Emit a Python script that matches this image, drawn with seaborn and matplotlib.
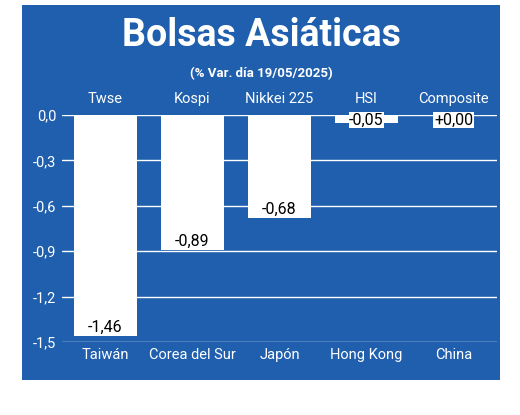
import matplotlib
matplotlib.use("Agg")
import matplotlib.pyplot as plt
import seaborn as sns
import pandas as pd
from matplotlib.patches import Rectangle

countries = ["Taiwán", "Corea del Sur", "Japón", "Hong Kong", "China"]
indices = ["Twse", "Kospi", "Nikkei 225", "HSI", "Composite"]
values = [-1.46, -0.89, -0.68, -0.05, 0.00]
labels = ["-1,46", "-0,89", "-0,68", "-0,05", "+0,00"]
yticks = [0.0, -0.3, -0.6, -0.9, -1.2, -1.5]

sns.set_theme(style="white")
plt.rcParams['font.family'] = ['Roboto', 'DejaVu Sans']
blue = "#1f5fae"

fig = plt.figure(figsize=(5.2, 4.15), dpi=100)
fig.patches.append(Rectangle((0.042, 0.084), 0.92, 0.904, transform=fig.transFigure,
                             facecolor=blue, edgecolor="none", zorder=-10))
fig.text(0.502, 0.915, "Bolsas Asiáticas", color="white", fontsize=27, fontweight="bold",
         ha="center", va="center")
fig.text(0.502, 0.822, "(% Var. día 19/05/2025)", color="white", fontsize=9.5,
         fontweight="bold", ha="center", va="center")

ax = fig.add_axes([0.119, 0.176, 0.837, 0.547], zorder=5)
ax.set_facecolor(blue)
df = pd.DataFrame({"country": countries, "value": values})
sns.barplot(data=df, x="country", y="value", color="white", width=0.73, ax=ax,
            saturation=1, zorder=3)
for p in ax.patches:
    p.set_edgecolor("none")
ax.set_ylim(-1.5, 0.0)
ax.set_yticks(yticks)
ax.set_yticklabels([f"{t:.1f}".replace(".", ",") for t in yticks], color="white", fontsize=10.5)
ax.yaxis.grid(True, color="white", linewidth=1, zorder=0)
ax.set_axisbelow(True)
for s in ax.spines.values():
    s.set_visible(False)
ax.tick_params(axis="both", length=0, pad=4)
ax.set_xlabel("")
ax.set_ylabel("")
ax.set_xticks(range(len(countries)))
ax.set_xticklabels(countries, color="white", fontsize=10.5)
for i, (v, lab) in enumerate(zip(values, labels)):
    y = v + 0.055 if v < -0.3 else -0.035
    ax.text(i, y, lab, ha="center", va="center", fontsize=11.5, color="black",
            bbox=dict(facecolor="white", edgecolor="none", pad=0.5), zorder=5)
for i, name in enumerate(indices):
    ax.text(i, 0.06, name, ha="center", va="bottom", fontsize=10.5, color="white",
            transform=ax.transData, clip_on=False)

fig.savefig("out.png", dpi=100)
